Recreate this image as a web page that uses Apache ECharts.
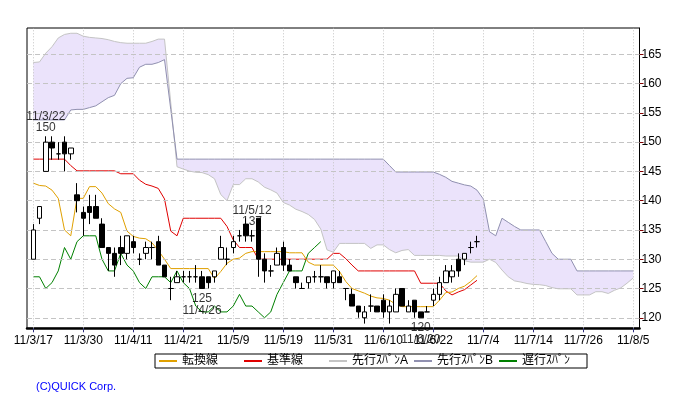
<!DOCTYPE html>
<html><head><meta charset="utf-8">
<script src="https://cdn.jsdelivr.net/npm/echarts@6/dist/echarts.min.js"></script>
<style>html,body{margin:0;padding:0;background:#fff}#c{width:680px;height:400px}</style>
</head><body><div id="c"></div>
<script>
// x-axis tick labels (every 8 trading days, starting at bar 0)
const tickLabels = ['11/3/17','11/3/30','11/4/11','11/4/21','11/5/9','11/5/19','11/5/31','11/6/10','11/6/22','11/7/4','11/7/14','11/7/26','11/8/5'];
const yTicks = [120,125,130,135,140,145,150,155,160,165];

// daily candles, bar 0 = 11/3/17
const opens  = [130,137,145,150,148,150,148,141,138,139, 139,136,132,131,132,131,133,130,131,132, 133,129,125,126,127,127,127,127,127,127, 130,130,132,134,136,134,137,130,128,129, 132,129,127,125,126,127,127,127,126,127, 125,124,122,120,122,122,123,121,121,125, 121,123,121,121,123,124,126,127,130,130, 132,133];
const highs  = [136,139,151,151,150,151,149,143,139,141, 141,137,132,132,134,134,134,131,133,133, 134,129,127,128,128,128,129,128,127,128, 134,132,134,135,137,135,137,131,129,132, 133,130,127,126,127,128,129,127,128,128, 125,125,122,122,124,122,124,123,125,125, 123,123,121,122,125,127,129,129,131,131, 133,134];
const lows   = [130,136,145,147,147,145,147,138,134,136, 137,132,128,127,129,130,131,129,130,130, 129,127,123,126,126,126,126,125,125,126, 130,129,131,133,133,133,127,126,127,129, 128,128,125,125,125,126,126,125,125,126, 123,122,120,119,121,121,120,119,121,122, 121,120,120,121,122,123,126,126,127,129, 131,132];
const closes = [135,139,150,149,148,148,149,140,137,138, 137,132,131,129,131,134,132,130,132,132, 129,127,125,127,127,127,127,125,126,128, 132,130,133,134,134,134,130,128,128,131, 129,128,126,125,127,127,127,126,128,126, 125,122,121,121,122,121,121,122,124,122, 122,121,120,121,124,126,128,128,128,131, 132,133];

// 転換線 / 基準線 (bars 0..71)
const tenkan = [143.0,142.6,142.5,141.8,140.4,135.0,134.0,140.4,140.4,142.4, 142.4,141.3,139.5,138.6,138.0,134.8,133.9,133.6,133.5,132.8, 131.5,130.0,128.4,128.4,128.4,128.4,128.4,128.4,128.4,126.7, 127.9,129.3,130.0,130.2,131.0,131.3,131.3,131.3,131.3,131.3, 131.3,131.1,131.1,131.1,129.5,129.0,129.0,129.0,129.0,127.9, 126.2,125.0,124.6,124.2,123.7,123.4,123.3,123.0,122.3,121.9, 121.9,121.9,121.9,121.9,121.9,123.0,124.3,124.4,125.0,125.4, 126.2,127.2];
const kijun  = [147.1,147.1,147.1,147.1,147.1,147.1,146.0,145.1,145.1,145.1, 145.1,145.1,145.1,145.1,144.6,144.6,144.6,143.5,142.8,142.5, 142.1,140.3,134.8,134.0,137.0,137.0,137.0,137.0,137.0,137.0, 137.0,135.6,133.3,132.0,132.0,132.0,130.0,130.0,130.0,130.0, 130.0,130.0,130.0,130.0,130.0,130.0,130.0,130.0,131.0,131.0, 130.1,129.0,128.0,128.0,128.0,128.0,128.0,128.0,128.0,128.0, 128.0,128.0,125.9,125.9,125.9,125.9,124.6,123.9,124.4,124.8, 125.6,126.4];
// 先行スパンA / B (bars 0..96)
const senkouA = [163.6,163.7,165.2,166.3,167.8,168.4,168.6,168.6,168.1,167.9, 167.8,167.7,167.5,167.2,167.0,166.9,166.9,166.9,166.9,167.2, 167.6,167.6,156.7,145.8,145.4,145.05,144.85,144.8,144.45,143.75, 141.05,140.0,142.75,142.75,143.75,143.75,143.2,142.3,141.85,141.3, 139.7,139.25,138.55,138.15,137.65,136.8,135.15,131.6,131.2,132.7, 132.7,132.7,132.7,132.7,131.85,132.45,132.45,131.65,131.1,131.5, 131.65,130.65,130.65,130.65,130.65,130.65,130.55,130.55,130.55,129.75, 129.5,129.5,129.5,130.0,129.45,128.15,127.0,126.3,126.1,125.85, 125.7,125.65,125.5,125.15,124.95,124.95,124.95,123.9,123.9,123.9, 124.45,124.45,124.15,124.7,125.1,125.9,126.8];
const senkouB = [153.8,153.8,153.8,153.8,153.8,153.8,155.5,155.6,155.6,155.9, 156.2,156.9,157.6,158.0,160.0,160.9,161.0,162.8,163.3,163.3, 163.6,164.1,155.6,147.1,147.1,147.1,147.1,147.1,147.1,147.1, 147.1,147.1,147.1,147.1,147.1,147.1,147.1,147.1,147.1,147.1, 147.1,147.1,147.1,147.1,147.1,147.1,147.1,147.1,147.1,147.1, 147.1,147.1,147.1,147.1,147.1,147.1,147.1,146.0,144.9,144.9, 144.9,144.9,144.9,144.9,144.9,144.5,144.0,143.3,143.0,142.7, 142.5,141.8,140.3,134.7,134.0,137.0,136.3,135.6,135.0,135.0, 135.0,135.0,133.0,131.0,130.0,130.0,130.0,128.0,128.0,128.0, 128.0,128.0,128.0,128.0,128.0,128.0,128.0];
// 遅行スパン (bars 0..46)
const chikou = [127,127,125,126,128,132,130,133,134,134, 134,130,128,128,131,129,128,126,125,127, 127,127,126,128,126,125,122,121,121,122, 121,121,122,124,122,122,121,120,121,124, 126,128,128,128,131,132,133];

// high / low annotations
const peakBars   = [2, 27, 35, 62];
const peakValues = [151, 125, 135, 120];
const peakDates  = ['11/3/22','11/4/26','11/5/12','11/6/20'];
const peakTexts  = ['150','125','137','120'];
const peakIsHigh = [true, false, true, false];

const N = 99;                       // slots for bars -1 .. 97
const cats = Array.from({length: N}, (_, k) => String(k - 1));
const sl = i => i + 1;
const pairs = arr => arr.map((v, i) => [sl(i), v]);
const isTick = k => k >= 1 && (k - 1) % 8 === 0;

const candleData = opens.map((o, i) => [sl(i), o, closes[i], lows[i], highs[i]]);
const cloudLow  = senkouA.map((a, i) => Math.min(a, senkouB[i]));
const cloudDiff = senkouA.map((a, i) => Math.abs(a - senkouB[i]));

const F = "'Liberation Sans', Arial, 'Noto Sans CJK JP', sans-serif";
const gridColor = '#c4c4c4';

const vLines = cats.map((c, k) => k).filter(isTick).map(k => ({xAxis: k}));
const hLines = yTicks.map(v => ({yAxis: v}));

const annData = peakBars.map((b, j) => ({
  value: [sl(b), peakValues[j]],
  label: {
    show: true,
    position: peakIsHigh[j] ? 'top' : 'bottom',
    distance: peakIsHigh[j] ? 3 : 4,
    formatter: peakIsHigh[j] ? (peakDates[j] + '\n' + peakTexts[j]) : (peakTexts[j] + '\n' + peakDates[j]),
    lineHeight: peakIsHigh[j] ? 11 : 12,
    fontSize: 12, fontFamily: F, color: '#000'
  }
}));

const chart = echarts.init(document.getElementById('c'), null, {renderer: 'canvas'});
chart.setOption({
  animation: false,
  backgroundColor: '#fff',
  title: {
    text: '(C)QUICK Corp.', left: 31, top: 376,
    textStyle: {color: '#0000ff', fontSize: 11, fontWeight: 'normal', fontFamily: F}
  },
  legend: {
    data: ['転換線','基準線','先行ｽﾊﾟﾝA','先行ｽﾊﾟﾝB','遅行ｽﾊﾟﾝ'],
    left: 155, top: 354,
    padding: [1, 3, 1, 4],
    itemGap: 0, itemWidth: 18, itemHeight: 2,
    icon: 'rect',
    borderColor: '#000', borderWidth: 1,
    formatter: name => '{t|' + name + '}',
    textStyle: {fontSize: 12, fontFamily: F, color: '#000',
      rich: {t: {width: 62, fontSize: 12, fontFamily: F, color: '#000', lineHeight: 13}}},
    selectedMode: false
  },
  grid: {
    left: 27, right: 40.5, top: 28, bottom: 71.7,
    show: true, borderColor: '#000', borderWidth: 1
  },
  xAxis: {
    type: 'category', data: cats, boundaryGap: false,
    axisLine: {lineStyle: {color: '#000', width: 2.5}},
    axisTick: {show: true, interval: (k) => isTick(k), length: 4, lineStyle: {color: '#303080'}},
    axisLabel: {
      interval: (k) => isTick(k),
      formatter: (v, k) => isTick(k) ? (tickLabels[(k - 1) / 8] || '') : '',
      fontSize: 12, fontFamily: F, color: '#000', margin: 6
    },
    splitLine: {show: false}
  },
  yAxis: {
    type: 'value', position: 'right', min: 118.2, max: 169.5,
    axisLine: {show: true, lineStyle: {color: '#000', width: 1}},
    axisTick: {show: true, customValues: yTicks, length: 4, lineStyle: {color: '#800000'}},
    axisLabel: {customValues: yTicks, fontSize: 12, fontFamily: F, color: '#000', margin: 2},
    splitLine: {show: false}
  },
  series: [
    {name: 'cloudBase', type: 'line', data: pairs(cloudLow), stack: 'cloud', symbol: 'none',
     lineStyle: {width: 0, opacity: 0}, z: 1, silent: true},
    {name: 'cloudFill', type: 'line', data: pairs(cloudDiff), stack: 'cloud', symbol: 'none',
     lineStyle: {width: 0, opacity: 0}, areaStyle: {color: '#ebe3fb', opacity: 1}, z: 1, silent: true},
    {name: 'grid', type: 'line', data: [], z: 2, silent: true,
     markLine: {silent: true, symbol: ['none','none'], label: {show: false}, animation: false,
       data: vLines.map(d => Object.assign({lineStyle: {color: gridColor, type: [1, 2], width: 1}}, d))
         .concat(hLines.map(d => Object.assign({lineStyle: {color: gridColor, type: [5, 3], width: 1}}, d)))}},
    {name: '先行ｽﾊﾟﾝA', type: 'line', data: pairs(senkouA), symbol: 'none', z: 3,
     lineStyle: {color: '#c4c4c4', width: 1}, itemStyle: {color: '#c4c4c4'}},
    {name: '先行ｽﾊﾟﾝB', type: 'line', data: pairs(senkouB), symbol: 'none', z: 3,
     lineStyle: {color: '#9090b0', width: 1}, itemStyle: {color: '#9090b0'}},
    {name: '遅行ｽﾊﾟﾝ', type: 'line', data: pairs(chikou), symbol: 'none', z: 4,
     lineStyle: {color: '#008000', width: 1}, itemStyle: {color: '#008000'}},
    {name: '基準線', type: 'line', data: pairs(kijun), symbol: 'none', z: 4,
     lineStyle: {color: '#e00000', width: 1}, itemStyle: {color: '#e00000'}},
    {name: '転換線', type: 'line', data: pairs(tenkan), symbol: 'none', z: 4,
     lineStyle: {color: '#e0a000', width: 1}, itemStyle: {color: '#e0a000'}},
    {name: 'peaks', type: 'scatter', data: annData, symbolSize: 0, z: 5, silent: true},
    {name: 'candles', type: 'candlestick', data: candleData, encode: {x: 0, y: [1, 2, 3, 4]},
     barWidth: 5, z: 6,
     itemStyle: {color: '#ffffff', color0: '#000000', borderColor: '#000000', borderColor0: '#000000', borderWidth: 1}}
  ]
});
</script></body></html>
